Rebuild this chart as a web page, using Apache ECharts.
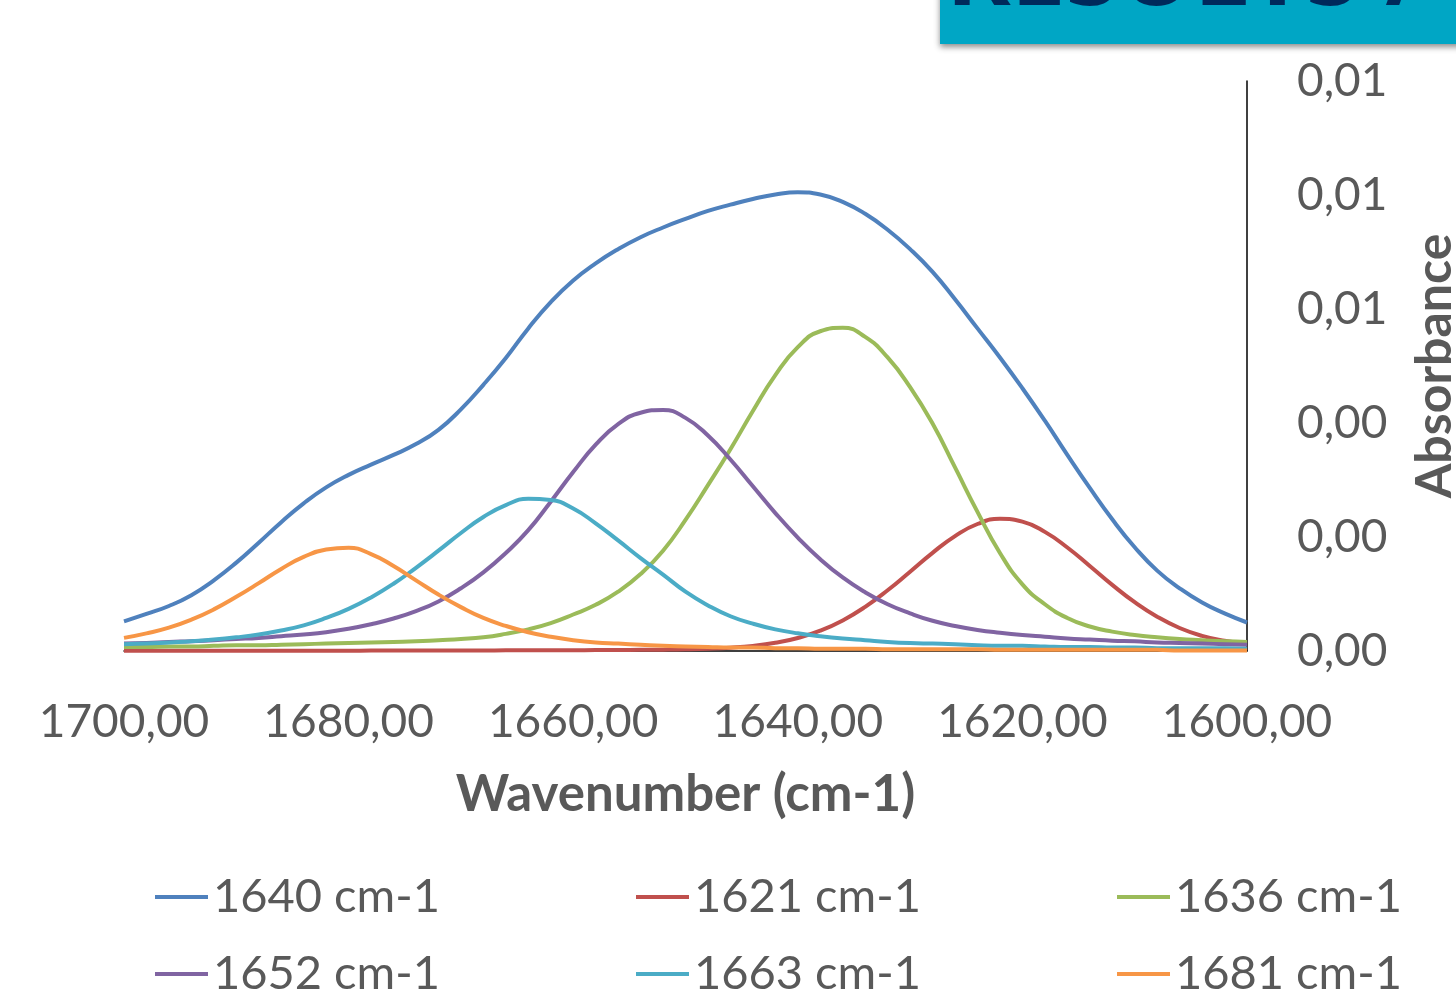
<!DOCTYPE html>
<html><head><meta charset="utf-8">
<script src="https://cdn.jsdelivr.net/npm/echarts@6/dist/echarts.min.js"></script>
<style>html,body{margin:0;padding:0;background:#fff;overflow:hidden}#c{width:1456px;height:1008px}</style>
</head><body><div id="c"></div>
<script>
const wavenumbers = [1700,1698,1696,1694,1692,1690,1688,1686,1684,1682,
 1680,1678,1676,1674,1672,1670,1668,1666,1664,1662,
 1660,1658,1656,1654,1652,1650,1648,1646,1644,1642,
 1640,1638,1636,1634,1632,1630,1628,1626,1624,1622,
 1620,1618,1616,1614,1612,1610,1608,1606,1604,1602,
 1600];

const band1640 = [0.00052,0.00065,0.00079,0.00098,0.00124,0.00155,0.00190,0.00226,0.00259,0.00287,
 0.00309,0.00327,0.00344,0.00363,0.00388,0.00424,0.00467,0.00514,0.00566,0.00612,
 0.00650,0.00680,0.00705,0.00726,0.00743,0.00758,0.00772,0.00783,0.00793,0.00801,
 0.00805,0.00801,0.00788,0.00767,0.00739,0.00705,0.00665,0.00617,0.00566,0.00515,
 0.00461,0.00404,0.00344,0.00286,0.00231,0.00182,0.00141,0.00110,0.00085,0.00066,
 0.00050];

const band1621 = [0.000004,0.000004,0.000004,0.000005,0.000005,0.000005,0.000005,0.000006,0.000006,0.000006,
 0.000006,0.000007,0.000007,0.000008,0.000009,0.000009,0.000010,0.000011,0.000012,0.000013,
 0.000014,0.000016,0.000018,0.000021,0.000024,0.000030,0.000041,0.000059,0.000090,0.000144,
 0.000228,0.000356,0.000536,0.000774,0.001065,0.001391,0.001722,0.002016,0.002228,0.002318,
 0.002269,0.002090,0.001816,0.001492,0.001160,0.000856,0.000602,0.000404,0.000265,0.000180,
 0.000130];

const band1636 = [0.00007,0.00007,0.00008,0.00008,0.00009,0.00010,0.00010,0.00011,0.00012,0.00013,
 0.00014,0.00015,0.00016,0.00017,0.00019,0.00021,0.00024,0.00030,0.00038,0.00049,
 0.00064,0.00081,0.00104,0.00135,0.00176,0.00230,0.00291,0.00354,0.00421,0.00484,
 0.00533,0.00561,0.00567,0.00551,0.00515,0.00463,0.00399,0.00322,0.00244,0.00172,
 0.00117,0.00082,0.00058,0.00043,0.00034,0.00028,0.00024,0.00021,0.00019,0.00017,
 0.00016];

const band1652 = [0.00013,0.00014,0.00016,0.00017,0.00019,0.00021,0.00023,0.00026,0.00029,0.00033,
 0.00039,0.00047,0.00057,0.00070,0.00087,0.00110,0.00138,0.00172,0.00212,0.00262,
 0.00314,0.00362,0.00398,0.00418,0.00423,0.00409,0.00378,0.00336,0.00289,0.00242,
 0.00199,0.00161,0.00129,0.00103,0.00082,0.00066,0.00053,0.00044,0.00037,0.00032,
 0.00028,0.00025,0.00022,0.00020,0.00018,0.00017,0.00015,0.00014,0.00013,0.00012,
 0.00011];

const band1663 = [0.00012,0.00013,0.00015,0.00017,0.00020,0.00024,0.00029,0.00036,0.00045,0.00058,
 0.00074,0.00094,0.00118,0.00146,0.00176,0.00207,0.00235,0.00256,0.00267,0.00265,
 0.00250,0.00224,0.00194,0.00163,0.00134,0.00104,0.00080,0.00061,0.00048,0.00038,
 0.00031,0.00026,0.00022,0.00019,0.00016,0.00014,0.00013,0.00012,0.00010,0.00009,
 0.00009,0.00008,0.00007,0.00007,0.00006,0.00006,0.00005,0.00005,0.00005,0.00005,
 0.00004];

const band1681 = [0.00023,0.00031,0.00041,0.00055,0.00073,0.00095,0.00119,0.00144,0.00165,0.00178,
 0.00181,0.00170,0.00149,0.00124,0.00099,0.00077,0.00058,0.00044,0.00033,0.00025,
 0.00019,0.00015,0.00013,0.00011,0.00009,0.00008,0.00007,0.00006,0.00006,0.00005,
 0.00005,0.00004,0.00004,0.00004,0.00003,0.00003,0.00003,0.00003,0.00003,0.00002,
 0.00002,0.00002,0.00002,0.00002,0.00002,0.00002,0.00002,0.00001,0.00001,0.00001,
 0.00001];

const seriesNames = ['1640 cm-1','1621 cm-1','1636 cm-1','1652 cm-1','1663 cm-1','1681 cm-1'];
const seriesValues = [band1640, band1621, band1636, band1652, band1663, band1681];
const seriesColors = ['#4F81BD','#C0504D','#9BBB59','#8064A2','#4BACC6','#F79646'];

const xAxisTitle = 'Wavenumber (cm-1)';
const yAxisTitle = 'Absorbance';
const bannerText = 'RESULTS / DISCUSSION';

const FONT = 'Lato, "Liberation Sans", sans-serif';
const GREY = '#595959';
const fmt = v => Number(v).toFixed(2).replace('.', ',');

const chart = echarts.init(document.getElementById('c'), null, {renderer: 'canvas'});

const legendCol = (left, names) => ({
  orient: 'vertical', left: left, top: 872, padding: 0,
  data: names, icon: 'rect', itemWidth: 53, itemHeight: 4, itemGap: 27,
  selectedMode: false,
  textStyle: {fontFamily: FONT, fontSize: 47, color: GREY, lineHeight: 50}
});

chart.setOption({
  animation: false,
  backgroundColor: '#ffffff',
  color: seriesColors,
  grid: {left: 124, right: 209, top: 81, bottom: 357, containLabel: false, outerBoundsMode: 'none'},
  legend: [
    legendCol(155, [seriesNames[0], seriesNames[3]]),
    legendCol(636, [seriesNames[1], seriesNames[4]]),
    legendCol(1117, [seriesNames[2], seriesNames[5]])
  ],
  xAxis: {
    type: 'value', inverse: true, min: 1600, max: 1700, interval: 20,
    name: xAxisTitle, nameLocation: 'middle', nameGap: 118,
    nameTextStyle: {fontFamily: FONT, fontSize: 51, fontWeight: 'bold', color: GREY},
    axisLine: {show: true, onZero: false, lineStyle: {color: '#000', width: 1.5}},
    axisTick: {show: false},
    splitLine: {show: false},
    axisLabel: {formatter: fmt, fontFamily: FONT, fontSize: 46, color: GREY, margin: 48}
  },
  yAxis: {
    type: 'value', position: 'right', min: 0, max: 0.01, interval: 0.002,
    name: yAxisTitle, nameLocation: 'middle', nameRotate: 90, nameGap: 163,
    nameTextStyle: {fontFamily: FONT, fontSize: 50, fontWeight: 'bold', color: GREY},
    axisLine: {show: true, lineStyle: {color: '#000', width: 1.5}},
    axisTick: {show: false},
    splitLine: {show: false},
    axisLabel: {formatter: fmt, fontFamily: FONT, fontSize: 46, color: GREY, margin: 50}
  },
  graphic: [
    {type: 'rect', shape: {x: 940, y: -20, width: 540, height: 64}, z: 10,
     style: {fill: '#00A6C5', shadowBlur: 6, shadowOffsetY: 3, shadowColor: 'rgba(0,0,0,0.45)'}},
    {type: 'text', x: 946, y: 26, z: 11,
     style: {text: bannerText, fontFamily: '"Open Sans", Lato, sans-serif', fontSize: 98, fontWeight: 'bold',
       fill: '#00295B', verticalAlign: 'bottom', align: 'left',
       shadowBlur: 3, shadowOffsetX: 3, shadowOffsetY: 3, shadowColor: 'rgba(0,0,0,0.5)'}}
  ],
  series: seriesNames.map((name, i) => ({
    name: name, type: 'line', smooth: true, showSymbol: false, symbol: 'none',
    lineStyle: {width: 4, color: seriesColors[i]},
    itemStyle: {color: seriesColors[i]},
    data: wavenumbers.map((w, j) => [w, seriesValues[i][j]])
  }))
});
</script></body></html>
